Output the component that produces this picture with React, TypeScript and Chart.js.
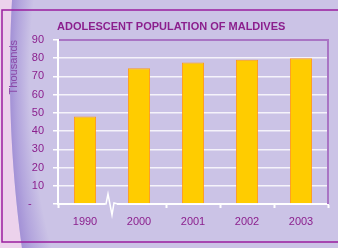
import React, { useEffect, useRef } from 'react';
import { Chart, registerables } from 'chart.js';

Chart.register(...registerables);

const years = ['1990', '2000', '2001', '2002', '2003'];
const population = [48, 74.5, 77.6, 79.1, 80];
const yMin = 0;
const yMax = 90;
const yStep = 10;
const chartTitle = 'ADOLESCENT POPULATION OF MALDIVES';
const yAxisTitle = 'Thousands';

const FONT = '"Liberation Sans", Arial, sans-serif';
const BG = '#CBC3E6';
const PINK = '#ECD2EC';
const PURPLE_TEXT = '#8B1F8D';
const FRAME = '#9A1E9E';

function swooshLeft(y: number) {
  // left edge of the decorative band
  const t = y / 248;
  return 12 - 14 * t + 24 * t * t;
}
function swooshRight(y: number) {
  const t = y / 248;
  return 34 - 30 * t + 48 * t * t;
}

const decorPlugin = {
  id: 'decor',
  beforeDraw(chart: any) {
    const { ctx, width, height } = chart;
    ctx.save();
    ctx.fillStyle = BG;
    ctx.fillRect(0, 0, width, height);
    for (let y = 0; y < height; y++) {
      const l = swooshLeft(y);
      const r = swooshRight(y);
      ctx.fillStyle = PINK;
      ctx.fillRect(0, y, l, 1);
      const g = ctx.createLinearGradient(l, 0, r, 0);
      g.addColorStop(0, '#A391D6');
      g.addColorStop(0.35, '#B3A5DD');
      g.addColorStop(1, BG);
      ctx.fillStyle = g;
      ctx.fillRect(l, y, r - l, 1);
    }
    // frame
    ctx.strokeStyle = FRAME;
    ctx.lineWidth = 1.5;
    ctx.beginPath();
    ctx.moveTo(width + 2, 10);
    ctx.lineTo(2, 10);
    ctx.lineTo(2, 242);
    ctx.lineTo(width + 2, 242);
    ctx.stroke();
    ctx.restore();
  },
  afterDraw(chart: any) {
    const { ctx, chartArea } = chart;
    const { left, right, top, bottom } = chartArea;
    ctx.save();
    // plot area top/right border
    ctx.strokeStyle = '#A974C4';
    ctx.lineWidth = 2;
    ctx.beginPath();
    ctx.moveTo(left + 1, top);
    ctx.lineTo(right, top);
    ctx.lineTo(right, bottom);
    ctx.stroke();
    // axis break between first and second category
    const xs = chart.scales.x;
    const bx = (xs.getPixelForValue(0) + xs.getPixelForValue(1)) / 2 - 1;
    ctx.fillStyle = BG;
    ctx.fillRect(bx - 6, bottom - 2, 12, 4);
    ctx.strokeStyle = '#FFFFFF';
    ctx.lineWidth = 1.5;
    ctx.beginPath();
    ctx.moveTo(bx - 7, bottom);
    ctx.lineTo(bx - 5, bottom);
    ctx.lineTo(bx - 3, bottom - 10);
    ctx.lineTo(bx + 1, bottom + 11);
    ctx.lineTo(bx + 3, bottom - 1);
    ctx.lineTo(bx + 7, bottom);
    ctx.stroke();
    // title
    ctx.fillStyle = PURPLE_TEXT;
    ctx.font = 'bold 11px ' + FONT;
    ctx.textBaseline = 'middle';
    ctx.textAlign = 'left';
    ctx.fillText(chartTitle, 57, 27);
    ctx.restore();
  },
};

export default function App() {
  const ref = useRef<HTMLCanvasElement | null>(null);
  useEffect(() => {
    document.body.style.margin = '0';
    const canvas = ref.current;
    if (!canvas) return;
    const chart = new Chart(canvas, {
      type: 'bar',
      data: {
        labels: years,
        datasets: [
          {
            data: population,
            backgroundColor: '#FFCC00',
            borderColor: '#FF9A1A',
            borderWidth: 1,
            categoryPercentage: 1,
            barPercentage: 0.41,
          },
        ],
      },
      options: {
        animation: false,
        responsive: false,
        maintainAspectRatio: false,
        events: [],
        layout: { padding: { left: 0, top: 40, right: 10, bottom: 0 } },
        plugins: { legend: { display: false }, tooltip: { enabled: false }, title: { display: false } },
        scales: {
          x: {
            afterFit: (s: any) => { s.height = 44; },
            offset: true,
            grid: {
              offset: true,
              drawOnChartArea: false,
              drawTicks: true,
              tickLength: 4,
              tickWidth: 2,
              color: (c: any) => (c.index === 1 ? 'rgba(0,0,0,0)' : '#FFFFFF'),
            },
            border: { display: true, color: '#FFFFFF', width: 2 },
            ticks: {
              color: PURPLE_TEXT,
              font: { family: FONT, size: 11 },
              padding: 7,
            },
          },
          y: {
            min: yMin,
            max: yMax,
            afterFit: (s: any) => { s.width = 58; },
            grid: {
              color: (c: any) => (c.tick && c.tick.value === yMax ? 'rgba(0,0,0,0)' : 'rgba(255,255,255,0.8)'),
              tickColor: '#FFFFFF',
              tickLength: 5,
              lineWidth: 1.5,
            },
            border: { display: true, color: '#FFFFFF', width: 2 },
            ticks: {
              stepSize: yStep,
              color: PURPLE_TEXT,
              font: { family: FONT, size: 11 },
              padding: 9,
              callback: (v: any) => (Number(v) === 0 ? '-    ' : String(v)),
            },
            title: {
              display: true,
              text: yAxisTitle,
              align: 'end',
              color: '#8A48A8',
              font: { family: FONT, size: 11 },
              padding: { top: 7, bottom: 0 },
            },
          },
        },
      },
      plugins: [decorPlugin],
    } as any);
    return () => chart.destroy();
  }, []);
  return (
    <div style={{ position: 'fixed', left: 0, top: 0, width: 338, height: 248 }}>
      <canvas ref={ref} width={338} height={248} style={{ display: 'block', width: 338, height: 248 }} />
    </div>
  );
}
